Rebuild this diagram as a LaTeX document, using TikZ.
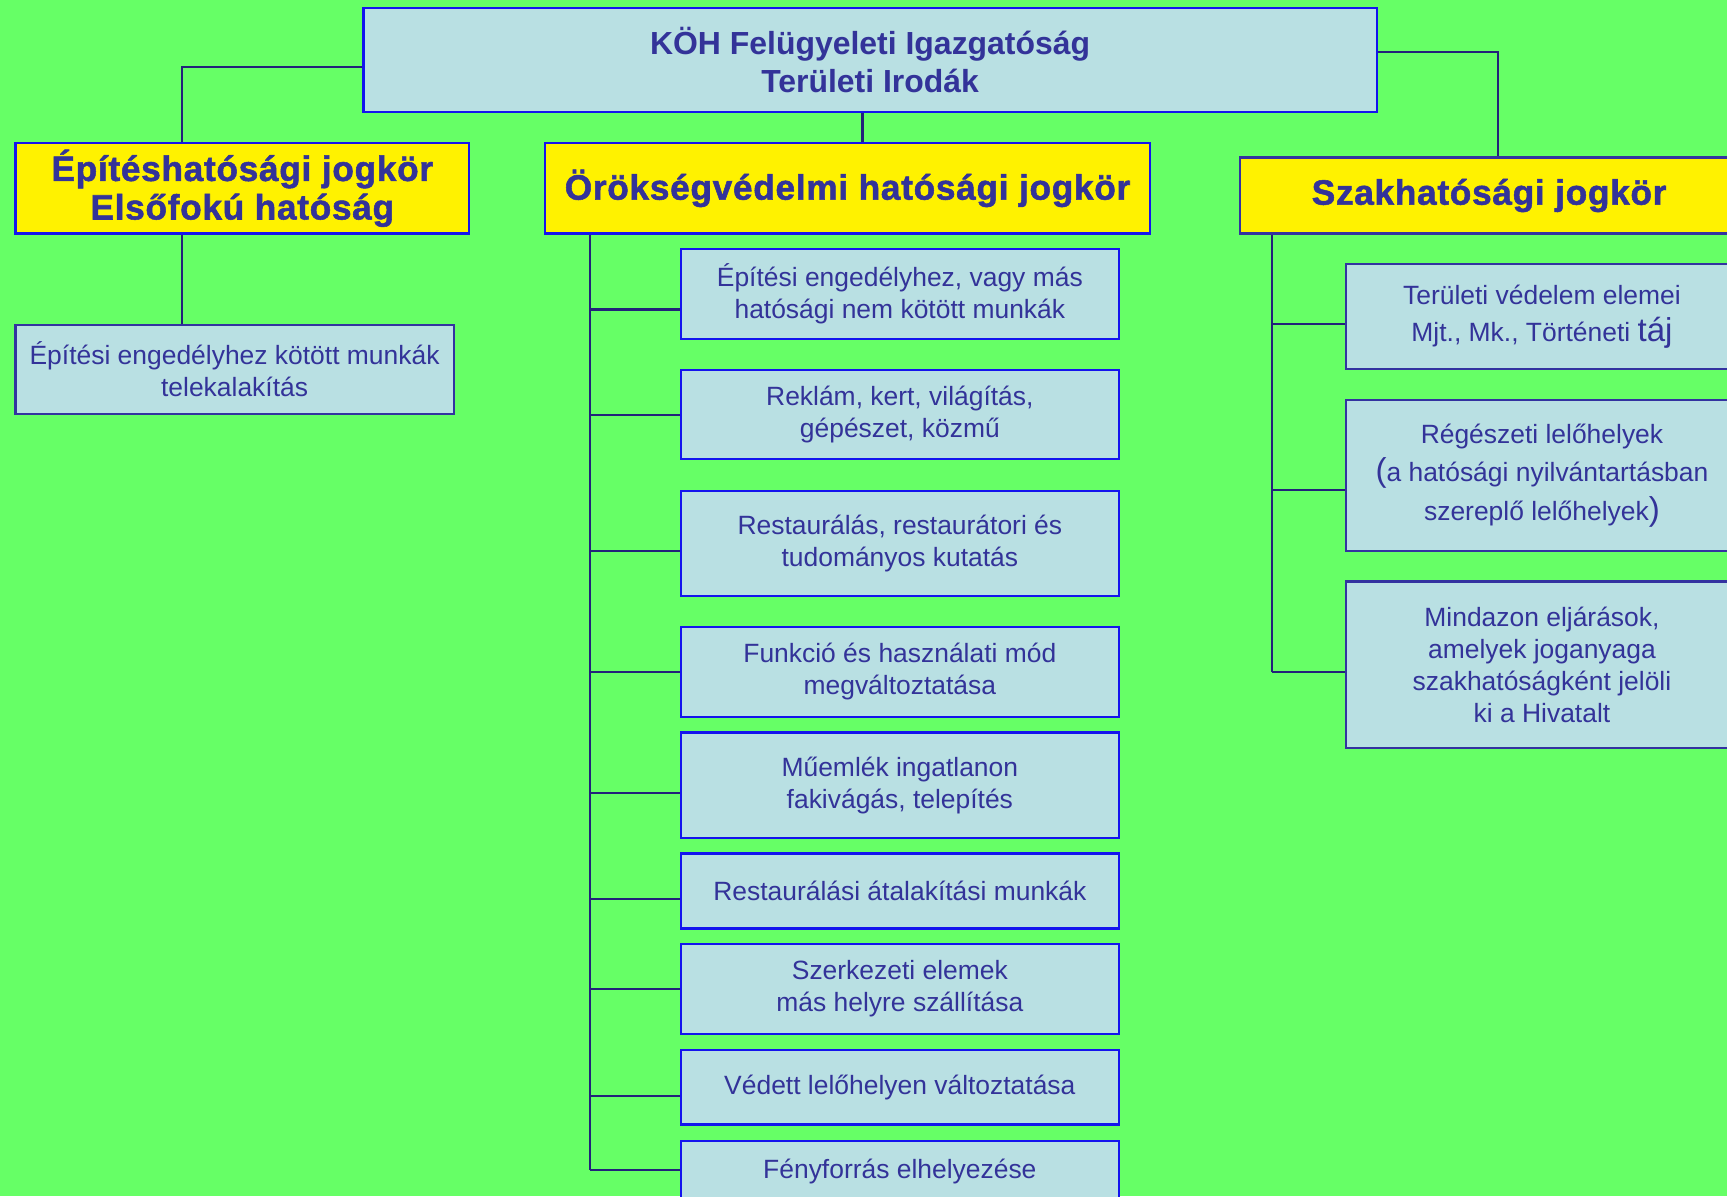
\documentclass[tikz,border=0pt]{standalone}
\usepackage{fontspec}
\setmainfont{Liberation Sans}
\newfontfamily\hdrfont{Liberation Sans}[BoldFeatures={FakeBold=1.5,LetterSpace=2}]
\definecolor{bg}{HTML}{66FF66}
\definecolor{boxfill}{HTML}{B9E0E3}
\definecolor{txt}{HTML}{333399}
\definecolor{brdblue}{HTML}{1414EE}
\definecolor{brddark}{HTML}{3333A0}
\definecolor{conncol}{HTML}{22227A}
\begin{document}
\begin{tikzpicture}[x=0.5pt,y=-0.5pt,
  box/.style={draw, line width=1pt, fill=boxfill, text=txt, align=center, inner sep=0pt,
    font=\fontsize{12}{14.5}\selectfont},
  topbox/.style={box, draw=brdblue, font=\bfseries\fontsize{14.5}{17}\selectfont},
  midbox/.style={box, draw=brdblue, minimum width=199pt},
  lbox/.style={box, draw=brddark, minimum width=199pt},
  rbox/.style={box, draw=brddark, minimum width=178pt},
  ybox/.style={draw=brdblue, line width=1pt, fill=yellow, text=txt, align=center, inner sep=0pt,
    font=\hdrfont\bfseries\fontsize{16}{17.5}\selectfont},
  conn/.style={draw=conncol, line width=1pt}
]
\useasboundingbox (0,0) rectangle (1568,1086);
\fill[bg] (0,0) rectangle (1568,1086);
\clip (0,0) rectangle (1568,1086);

% top
\node[topbox, minimum width=460pt, minimum height=47.5pt] (top) at (790,54.5)
  {KÖH Felügyeleti Igazgatóság\\Területi Irodák};

% yellow headers
\node[ybox, minimum width=206pt, minimum height=41pt] (epit) at (220,171)
  {Építéshatósági jogkör\\Elsőfokú hatóság};
\node[ybox, minimum width=274.5pt, minimum height=41pt] (orok) at (769.5,171)
  {Örökségvédelmi hatósági jogkör};
\node[ybox, draw=brddark, minimum width=226pt, minimum height=34.5pt] (szak) at (1352,177.5)
  {Szakhatósági jogkör};

% left child
\node[lbox, minimum height=40.5pt] (lc) at (213,335.5)
  {Építési engedélyhez kötött munkák\\telekalakítás};

% middle children
\node[midbox, minimum height=41pt]   (m1) at (817,267)   {Építési engedélyhez, vagy más\\hatósági nem kötött munkák};
\node[midbox, minimum height=40.5pt] (m2) at (817,376.5) {Reklám, kert, világítás,\\gépészet, közmű};
\node[midbox, minimum height=47.5pt] (m3) at (817,493.5) {Restaurálás, restaurátori és\\tudományos kutatás};
\node[midbox, minimum height=41pt]   (m4) at (817,610)   {Funkció és használati mód\\megváltoztatása};
\node[midbox, minimum height=48pt]   (m5) at (817,713)   {Műemlék ingatlanon\\fakivágás, telepítés};
\node[midbox, minimum height=34pt]   (m6) at (817,809)   {Restaurálási átalakítási munkák};
\node[midbox, minimum height=41pt]   (m7) at (817,898)   {Szerkezeti elemek\\más helyre szállítása};
\node[midbox, minimum height=34pt]   (m8) at (817,987)   {Védett lelőhelyen változtatása};
\node[midbox, minimum height=28pt]   (m9) at (817,1064)  {Fényforrás elhelyezése};

% right children
\node[rbox, minimum height=47.5pt, font=\fontsize{12}{17}\selectfont] (r1) at (1400,287.5)
  {Területi védelem elemei\\Mjt., Mk., Történeti {\fontsize{15}{17}\selectfont táj}};
\node[rbox, minimum height=68.5pt, font=\fontsize{12}{17.5}\selectfont] (r2) at (1400,431.5)
  {Régészeti lelőhelyek\\{\fontsize{15}{17.5}\selectfont(}a hatósági nyilvántartásban\\szereplő lelőhelyek{\fontsize{15}{17.5}\selectfont)}};
\node[rbox, minimum height=75.5pt] (r3) at (1400,603.5)
  {Mindazon eljárások,\\amelyek joganyaga\\szakhatóságként jelöli\\ki a Hivatalt};

% connectors from top
\coordinate (jl) at (165,61);
\coordinate (jm) at (783,0);
\coordinate (jr) at (1360,47);
\draw[conn] (top.west |- jl) -- (jl) -- (jl |- epit.north);
\draw[conn] (jm |- top.south) -- (jm |- orok.north);
\draw[conn] (top.east |- jr) -- (jr) -- (jr |- szak.north);
\draw[conn] (jl |- epit.south) -- (jl |- lc.north);

% middle trunk
\coordinate (tm) at (536,0);
\draw[conn] (tm |- orok.south) -- (536,1062);
\foreach \i/\yy in {1/281,2/377,3/500,4/610,5/720,6/816,7/898,8/995,9/1062}
  \draw[conn] (536,\yy) -- (m\i.west |- 0,\yy);

% right trunk
\coordinate (tr) at (1155,0);
\draw[conn] (tr |- szak.south) -- (1155,610);
\foreach \i/\yy in {1/294,2/445,3/610}
  \draw[conn] (1155,\yy) -- (r\i.west |- 0,\yy);
\end{tikzpicture}
\end{document}
